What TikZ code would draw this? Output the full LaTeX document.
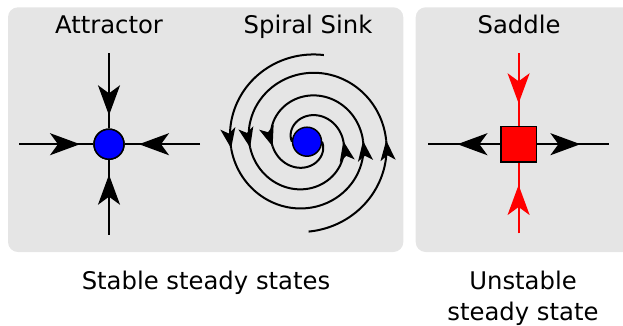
\documentclass[tikz,border=0pt]{standalone}
\usepackage{fontspec}
\setmainfont{DejaVu Sans}
\usetikzlibrary{arrows.meta,decorations.markings}
\definecolor{panel}{RGB}{229,229,229}
\definecolor{pureblue}{RGB}{0,0,255}
\definecolor{purered}{RGB}{255,0,0}
\tikzset{
  bigtip/.tip={Stealth[length=30pt,width=22pt,inset=8pt]},
  smalltip/.tip={Stealth[length=20pt,width=15pt,inset=5pt]},
}
\begin{document}
\begin{tikzpicture}[x=1pt,y=-1pt,
  panelbox/.style={fill=panel,draw=none,rounded corners=10pt},
  label/.style={font=\fontsize{24.3}{30.7}\selectfont,anchor=base,inner sep=0pt,align=center},
  flow/.style={line width=2pt},
  arrowat/.style={postaction={decorate},decoration={markings,mark=at position #1 with {\arrow{bigtip}}}},
  tipend/.style={postaction={decorate},decoration={markings,mark=at position 0.9995 with {\arrow{smalltip}}}},
  fixedpt/.style={circle,draw=black,line width=1.5pt,fill=pureblue,minimum size=30pt,inner sep=0pt},
  saddlept/.style={rectangle,draw=black,line width=1.5pt,fill=purered,minimum size=35.5pt,inner sep=0pt},
]
\useasboundingbox (0,0) rectangle (623,325);
% panels
\fill[panelbox] (8,7.3) rectangle (403.3,252);
\fill[panelbox] (415.7,7.3) rectangle (640,252);

% titles
\node[label] (tA) at (109,33.3) {Attractor};
\node[label] (tS) at (308,33.3) {Spiral Sink};
\node[label] (tD) at (519,33.3) {Saddle};
\node[label] (bS) at (206,289.3) {Stable steady states};
\node[label] (bU) at (523,320) {Unstable\\steady state};

% attractor
\node[fixedpt] (att) at (109,144.2) {};
\coordinate (aL) at (19,144.2);
\coordinate (aR) at (200,144.2);
\coordinate (aT) at (109,53.3);
\coordinate (aB) at (109,234.7);
\draw[flow,arrowat=61pt] (aL) -- (att);
\draw[flow,arrowat=61pt] (aR) -- (att);
\draw[flow,arrowat=62pt] (aT) -- (att);
\draw[flow,arrowat=60pt] (aB) -- (att);
\node[fixedpt] at (att) {};

% spiral sink
\begin{scope}[flow]
\draw[tipend] plot[domain=79:185,samples=107] ({307+(87-0.1143*(\x-90))*cos(\x)},{141.7-(87-0.1143*(\x-90))*sin(\x)});
\draw[tipend] plot[domain=185:361,samples=177] ({307+(87-0.1143*(\x-90))*cos(\x)},{141.7-(87-0.1143*(\x-90))*sin(\x)});
\draw[tipend] plot[domain=361:548,samples=188] ({307+(87-0.1143*(\x-90))*cos(\x)},{141.7-(87-0.1143*(\x-90))*sin(\x)});
\draw plot[domain=548:720,samples=173] ({307+(87-0.1143*(\x-90))*cos(\x)},{141.7-(87-0.1143*(\x-90))*sin(\x)});
\draw[tipend] plot[domain=91:181,samples=91] ({307-(90-0.119*(\x-90))*cos(\x)},{141.7+(90-0.119*(\x-90))*sin(\x)});
\draw[tipend] plot[domain=181:366,samples=186] ({307-(90-0.119*(\x-90))*cos(\x)},{141.7+(90-0.119*(\x-90))*sin(\x)});
\draw[tipend] plot[domain=366:541,samples=176] ({307-(90-0.119*(\x-90))*cos(\x)},{141.7+(90-0.119*(\x-90))*sin(\x)});
\draw plot[domain=541:720,samples=180] ({307-(90-0.119*(\x-90))*cos(\x)},{141.7+(90-0.119*(\x-90))*sin(\x)});
\end{scope}
\node[fixedpt,minimum size=29pt] (sink) at (307,141.7) {};

% saddle
\node[saddlept] (sad) at (518.6,144.2) {};
\coordinate (sL) at (428.3,144.2);
\coordinate (sR) at (609.3,144.2);
\coordinate (sT) at (518.6,53.3);
\coordinate (sB) at (518.6,233.3);
\draw[flow,arrowat=42.7pt] (sad) -- (sL);
\draw[flow,arrowat=43.3pt] (sad) -- (sR);
\draw[flow,purered,arrowat=50pt] (sT) -- (sad);
\draw[flow,purered,arrowat=48.3pt] (sB) -- (sad);
\node[saddlept] at (sad) {};
\end{tikzpicture}
\end{document}
